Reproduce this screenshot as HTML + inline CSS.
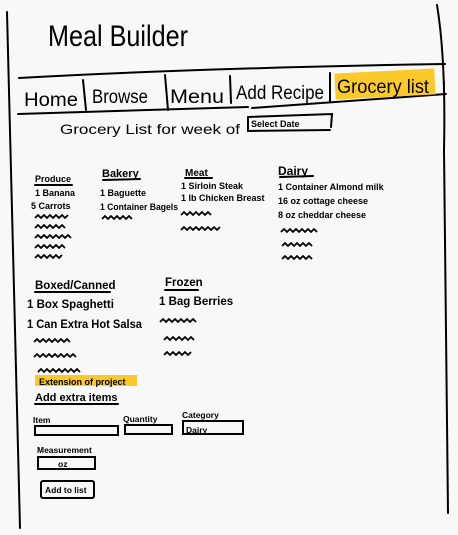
<!DOCTYPE html>
<html><head><meta charset="utf-8"><style>
html,body{margin:0;padding:0;background:#f8f8f8;}
svg{display:block;}
text{font-family:"Liberation Sans",sans-serif;fill:#000;}
</style></head><body>
<svg width="458" height="535" viewBox="0 0 458 535" xmlns="http://www.w3.org/2000/svg">
<rect width="458" height="535" fill="#f8f8f8"/>
<g stroke="#000" stroke-width="2" fill="none" stroke-linecap="round">
<path d="M7 12 L20 528"/>
<path d="M437 5 Q446 60 444 150 L448 513"/>
<path d="M19 78 Q200 68 445 64"/>
<path d="M18 114 L248 107"/>
<path d="M252 108 L446 94"/>
<path d="M83 80 L86 110"/><path d="M165 75 L168 110"/><path d="M230 76 L231 103"/><path d="M330 73 L330 101"/><path d="M444 82 L444 89"/>
<path d="M248 117 L332 114 L331 127 M248 117 L248 131 L330 130"/>
<path d="M35 185 L72 185"/><path d="M103 180 L140 179"/><path d="M185 178 L212 178"/><path d="M280 177 L313 176"/>
<path d="M35 292 L110 292"/><path d="M165 290 L198 290"/><path d="M35 404 L118 404"/>
<rect x="35" y="426" width="83" height="9"/>
<rect x="125" y="425" width="47" height="9"/>
<rect x="183" y="421" width="60" height="13"/>
<rect x="38" y="457" width="57" height="12"/>
<rect x="41" y="481" width="53" height="17" rx="2"/>
</g>
<rect x="335" y="71" width="100" height="26" fill="#fbc92a" transform="rotate(-3 385 84)"/>
<rect x="35" y="375" width="102" height="11" fill="#fbc92a"/>
<g stroke="#000" stroke-width="1.8" fill="none" stroke-linejoin="round">
<path d="M35 218 l3-3 3 3 3-3 3 3 3-3 3 3 3-3 3 3 3-3 3 3 3-3"/>
<path d="M35 228 l3-3 3 3 3-3 3 3 3-3 3 3 3-3 3 3 3-3 3 3"/>
<path d="M35 238 l3-3 3 3 3-3 3 3 3-3 3 3 3-3 3 3 3-3 3 3 3-3 3 3"/>
<path d="M35 248 l3-3 3 3 3-3 3 3 3-3 3 3 3-3 3 3 3-3 3 3"/>
<path d="M35 258 l3-3 3 3 3-3 3 3 3-3 3 3 3-3 3 3 3-3"/>
<path d="M102 219 l3-3 3 3 3-3 3 3 3-3 3 3 3-3 3 3 3-3 3 3"/>
<path d="M181 215 l3-3 3 3 3-3 3 3 3-3 3 3 3-3 3 3 3-3 3 3"/>
<path d="M181 230 l3-3 3 3 3-3 3 3 3-3 3 3 3-3 3 3 3-3 3 3 3-3 3 3 3-3"/>
<path d="M281 232 l3-3 3 3 3-3 3 3 3-3 3 3 3-3 3 3 3-3 3 3 3-3 3 3"/>
<path d="M282 246 l3-3 3 3 3-3 3 3 3-3 3 3 3-3 3 3 3-3 3 3"/>
<path d="M282 259 l3-3 3 3 3-3 3 3 3-3 3 3 3-3 3 3 3-3 3 3"/>
<path d="M34 342 l3-3 3 3 3-3 3 3 3-3 3 3 3-3 3 3 3-3 3 3 3-3 3 3"/>
<path d="M34 357 l3-3 3 3 3-3 3 3 3-3 3 3 3-3 3 3 3-3 3 3 3-3 3 3 3-3 3 3"/>
<path d="M38 372 l3-3 3 3 3-3 3 3 3-3 3 3 3-3 3 3 3-3 3 3 3-3 3 3 3-3 3 3"/>
<path d="M160 322 l3-3 3 3 3-3 3 3 3-3 3 3 3-3 3 3 3-3 3 3 3-3 3 3"/>
<path d="M164 340 l3-3 3 3 3-3 3 3 3-3 3 3 3-3 3 3 3-3 3 3"/>
<path d="M164 355 l3-3 3 3 3-3 3 3 3-3 3 3 3-3 3 3 3-3"/>
</g>
<text x="48" y="46" font-size="30" textLength="140" lengthAdjust="spacingAndGlyphs">Meal Builder</text>
<g font-size="19">
<text x="24" y="106" textLength="54" lengthAdjust="spacingAndGlyphs">Home</text>
<text x="92" y="103" textLength="56" lengthAdjust="spacingAndGlyphs">Browse</text>
<text x="170" y="103" textLength="54" lengthAdjust="spacingAndGlyphs">Menu</text>
<text x="236" y="99" textLength="88" lengthAdjust="spacingAndGlyphs">Add Recipe</text>
<text x="337" y="93" textLength="92" lengthAdjust="spacingAndGlyphs">Grocery list</text>
</g>
<text x="60" y="134" font-size="14" textLength="180" lengthAdjust="spacingAndGlyphs">Grocery List for week of</text>
<text x="251" y="127" font-size="9" font-weight="bold">Select Date</text>
<g font-size="9" font-weight="bold">
<text x="35" y="182">Produce</text>
<text x="35" y="196">1 Banana</text>
<text x="31" y="209">5 Carrots</text>
<text x="102" y="177" font-size="11">Bakery</text>
<text x="100" y="196">1 Baguette</text>
<text x="100" y="210" textLength="78" lengthAdjust="spacingAndGlyphs">1 Container Bagels</text>
<text x="185" y="176" font-size="10">Meat</text>
<text x="181" y="189">1 Sirloin Steak</text>
<text x="181" y="201">1 lb Chicken Breast</text>
<text x="278" y="175" font-size="12">Dairy</text>
<text x="278" y="190">1 Container Almond milk</text>
<text x="278" y="204">16 oz cottage cheese</text>
<text x="278" y="218">8 oz cheddar cheese</text>
</g>
<g font-size="11.5" font-weight="bold">
<text x="35" y="289">Boxed/Canned</text>
<text x="165" y="286">Frozen</text>
<text x="27" y="308">1 Box Spaghetti</text>
<text x="159" y="305">1 Bag Berries</text>
<text x="27" y="328" textLength="115" lengthAdjust="spacingAndGlyphs">1 Can Extra Hot Salsa</text>
</g>
<text x="39" y="385" font-size="9" font-weight="bold">Extension of project</text>
<text x="35" y="401" font-size="11" font-weight="bold">Add extra items</text>
<g font-size="8.5" font-weight="bold">
<text x="33" y="423">Item</text>
<text x="123" y="422">Quantity</text>
<text x="182" y="418">Category</text>
<text x="186" y="433">Dairy</text>
<text x="37" y="453">Measurement</text>
<text x="58" y="467">oz</text>
<text x="45" y="493">Add to list</text>
</g>
</svg>
</body></html>
